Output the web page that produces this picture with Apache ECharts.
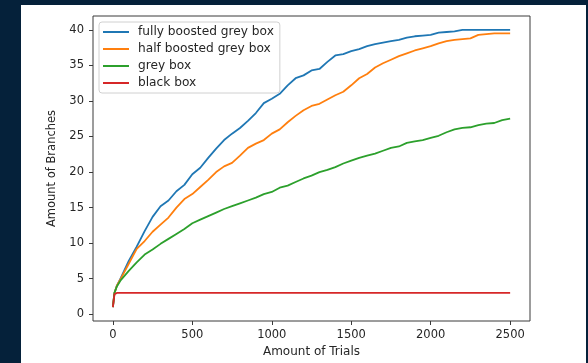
<!DOCTYPE html>
<html>
<head>
<meta charset="utf-8">
<script src="https://cdn.jsdelivr.net/npm/echarts@6/dist/echarts.min.js"></script>
<style>
  html, body { margin: 0; padding: 0; width: 588px; height: 363px; background: #05213a; overflow: hidden; }
  #main { position: absolute; left: 21px; top: 5px; width: 565px; height: 358px; background: #fff; }
</style>
</head>
<body>
<div id="main"></div>
<script>
// trial counts (x) shared by all four curves
const trials = [0, 10, 25, 50, 100, 150, 200, 250, 300, 350, 400, 450, 500, 550, 600, 650, 700, 750, 800, 850,
  900, 950, 1000, 1050, 1100, 1150, 1200, 1250, 1300, 1350, 1400, 1450, 1500, 1550, 1600, 1650, 1700, 1750,
  1800, 1850, 1900, 1950, 2000, 2050, 2100, 2150, 2200, 2250, 2300, 2350, 2400, 2450, 2500];

const fullyBoosted = [1, 3.0, 4.0, 5.1, 7.5, 9.5, 11.7, 13.7, 15.2, 16.0, 17.3, 18.2, 19.7, 20.6, 22.0, 23.3,
  24.5, 25.4, 26.2, 27.2, 28.3, 29.7, 30.3, 31.0, 32.2, 33.2, 33.6, 34.3, 34.5, 35.5, 36.4, 36.6, 37.0, 37.3,
  37.7, 38.0, 38.2, 38.4, 38.6, 38.9, 39.1, 39.2, 39.3, 39.6, 39.7, 39.8, 40.0, 40.0, 40.0, 40.0, 40.0, 40.0, 40.0];

const halfBoosted = [1, 3.0, 4.0, 5.0, 7.1, 9.2, 10.3, 11.6, 12.6, 13.6, 15.0, 16.2, 16.9, 17.9, 18.9, 20.0,
  20.8, 21.3, 22.3, 23.4, 24.0, 24.5, 25.4, 26.0, 27.0, 27.9, 28.7, 29.3, 29.6, 30.2, 30.8, 31.3, 32.2, 33.2,
  33.8, 34.7, 35.3, 35.8, 36.3, 36.7, 37.1, 37.4, 37.7, 38.1, 38.4, 38.6, 38.7, 38.8, 39.3, 39.4, 39.5, 39.5, 39.5];

const greyBox = [1, 3.0, 3.9, 4.8, 6.1, 7.3, 8.4, 9.1, 9.9, 10.6, 11.3, 12.0, 12.8, 13.3, 13.8, 14.3,
  14.8, 15.2, 15.6, 16.0, 16.4, 16.9, 17.2, 17.8, 18.1, 18.6, 19.1, 19.5, 20.0, 20.3, 20.7, 21.2, 21.6, 22.0,
  22.3, 22.6, 23.0, 23.4, 23.6, 24.1, 24.3, 24.5, 24.8, 25.1, 25.6, 26.0, 26.2, 26.3, 26.6, 26.8, 26.9, 27.3, 27.5];

const blackBox = [1, 2.8, 3, 3, 3, 3, 3, 3, 3, 3, 3, 3, 3, 3, 3, 3, 3, 3, 3, 3, 3, 3, 3, 3, 3, 3, 3, 3, 3, 3,
  3, 3, 3, 3, 3, 3, 3, 3, 3, 3, 3, 3, 3, 3, 3, 3, 3, 3, 3, 3, 3, 3, 3];

const xTicks = [0, 500, 1000, 1500, 2000, 2500];
const yTicks = [0, 5, 10, 15, 20, 25, 30, 35, 40];

const seriesNames = ['fully boosted grey box', 'half boosted grey box', 'grey box', 'black box'];
const seriesColors = ['#1f77b4', '#ff7f0e', '#2ca02c', '#d62728'];
const seriesValues = [fullyBoosted, halfBoosted, greyBox, blackBox];

const font = 'DejaVu Sans';
const textColor = '#262626';
const frameColor = '#3a3a3a';

let myChart = echarts.init(document.getElementById('main'));
myChart.setOption({
  animation: false,
  textStyle: { fontFamily: font },
  grid: {
    left: 72, top: 11, width: 437, height: 306,
    show: true, borderColor: frameColor, borderWidth: 1, backgroundColor: 'transparent'
  },
  legend: {
    left: 78, top: 17,
    orient: 'vertical',
    icon: 'rect',
    itemWidth: 26,
    itemHeight: 2,
    itemGap: 5,
    padding: [4, 6, 4, 4],
    borderColor: '#d0d0d0',
    borderWidth: 1,
    borderRadius: 3,
    backgroundColor: 'rgba(255,255,255,0.8)',
    textStyle: { fontFamily: font, fontSize: 12.2, color: textColor, lineHeight: 12, padding: [0, 0, 0, 4] },
    data: seriesNames
  },
  xAxis: {
    type: 'value',
    min: -125, max: 2625,
    name: 'Amount of Trials',
    nameLocation: 'middle',
    nameGap: 25,
    nameTextStyle: { fontFamily: font, fontSize: 12, color: textColor },
    axisLine: { show: false, onZero: false },
    splitLine: { show: false },
    axisTick: { show: true, length: 4, customValues: xTicks, lineStyle: { color: frameColor } },
    axisLabel: {
      customValues: xTicks, margin: 8, fontFamily: font, fontSize: 11.5, color: textColor,
      formatter: v => String(v)
    }
  },
  yAxis: {
    type: 'value',
    min: -0.95, max: 41.95,
    name: 'Amount of Branches',
    nameLocation: 'middle',
    nameGap: 28,
    nameTextStyle: { fontFamily: font, fontSize: 11.5, color: textColor },
    axisLine: { show: false, onZero: false },
    splitLine: { show: false },
    axisTick: { show: true, length: 4, customValues: yTicks, lineStyle: { color: frameColor } },
    axisLabel: {
      customValues: yTicks, margin: 9, fontFamily: font, fontSize: 11.5, color: textColor,
      formatter: v => String(v)
    }
  },
  series: seriesNames.map((name, i) => ({
    name: name,
    type: 'line',
    symbol: 'none',
    color: seriesColors[i],
    lineStyle: { width: 1.8, color: seriesColors[i] },
    data: trials.map((t, j) => [t, seriesValues[i][j]])
  }))
});
</script>
</body>
</html>
